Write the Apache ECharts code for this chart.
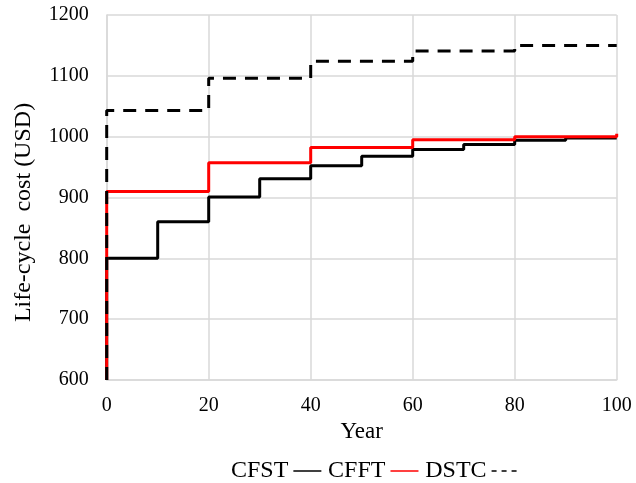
<!DOCTYPE html>
<html>
<head>
<meta charset="utf-8">
<script src="https://cdn.jsdelivr.net/npm/echarts@6/dist/echarts.min.js"></script>
<style>
  html, body { margin: 0; padding: 0; background: #fff; }
  #chart { width: 636px; height: 483px; }
</style>
</head>
<body>
<div id="chart"></div>
<script>
// Life-cycle cost step curves (USD) over the service life (years)
const seriesNames = ['CFST', 'CFFT', 'DSTC'];

const cfstYears = [0, 0, 10, 20, 30, 40, 50, 60, 70, 80, 90, 100];
const cfstCost  = [600, 800, 860, 901, 931, 952, 968, 979, 987, 994, 998, 998];

const cfftYears = [0, 0, 20, 40, 60, 80, 100];
const cfftCost  = [600, 910, 957, 982, 995, 1000, 1005];

const dstcYears = [0, 0, 20, 40, 60, 80, 100];
const dstcCost  = [600, 1043, 1096, 1124, 1141, 1150, 1150];

const yearTicks = [0, 20, 40, 60, 80, 100];
const costTicks = [600, 700, 800, 900, 1000, 1100, 1200];

function pairs(xs, ys) {
  return xs.map((x, i) => [x, ys[i]]);
}

const serif = '"Liberation Serif", "Times New Roman", serif';
const gridColor = '#d9d9d9';
const hiddenMarker = { opacity: 0, color: 'transparent', borderColor: 'transparent', borderWidth: 0 };

const chart = echarts.init(document.getElementById('chart'), null, { renderer: 'canvas' });

chart.setOption({
  animation: false,
  backgroundColor: '#ffffff',
  textStyle: { fontFamily: serif, color: '#000' },
  grid: { left: 106.7, right: 19.3, top: 15, bottom: 103, containLabel: false },
  legend: {
    left: 231,
    top: 459,
    padding: 0,
    align: 'right',
    itemWidth: 28,
    itemHeight: 14,
    itemGap: 6,
    textStyle: { fontFamily: serif, fontSize: 24, color: '#000' },
    lineStyle: { width: 1.5 },
    itemStyle: hiddenMarker,
    data: [
      { name: 'CFST', itemStyle: hiddenMarker, lineStyle: { width: 1.5, color: '#000' } },
      { name: 'CFFT', itemStyle: hiddenMarker, lineStyle: { width: 1.5, color: '#ff0000' } },
      { name: 'DSTC', itemStyle: hiddenMarker, lineStyle: { width: 1.5, color: '#000', type: [5, 5] } }
    ]
  },
  xAxis: {
    type: 'value',
    min: yearTicks[0],
    max: yearTicks[yearTicks.length - 1],
    interval: yearTicks[1] - yearTicks[0],
    name: 'Year',
    nameLocation: 'middle',
    nameGap: 38,
    nameTextStyle: { fontFamily: serif, fontSize: 23, color: '#000' },
    axisLine: { show: true, lineStyle: { color: gridColor, width: 1.5 } },
    axisTick: { show: false },
    axisLabel: { fontFamily: serif, fontSize: 20, color: '#000', margin: 16, formatter: v => String(v) },
    splitLine: { show: true, lineStyle: { color: gridColor, width: 1.5 } }
  },
  yAxis: {
    type: 'value',
    min: costTicks[0],
    max: costTicks[costTicks.length - 1],
    interval: costTicks[1] - costTicks[0],
    name: 'Life-cycle  cost (USD)',
    nameLocation: 'middle',
    nameGap: 71,
    nameRotate: 90,
    nameTextStyle: { fontFamily: serif, fontSize: 24, color: '#000', padding: [0, 30, 0, 0] },
    axisLine: { show: true, lineStyle: { color: gridColor, width: 1.5 } },
    axisTick: { show: false },
    axisLabel: { fontFamily: serif, fontSize: 20, color: '#000', margin: 18, formatter: v => String(v) },
    splitLine: { show: true, lineStyle: { color: gridColor, width: 1.5 } }
  },
  series: [
    {
      name: seriesNames[0],
      type: 'line',
      step: 'end',
      symbol: 'none',
      data: pairs(cfstYears, cfstCost),
      lineStyle: { color: '#000', width: 3 },
      itemStyle: { color: '#000' },
      emphasis: { disabled: true },
      z: 2
    },
    {
      name: seriesNames[1],
      type: 'line',
      step: 'end',
      symbol: 'none',
      data: pairs(cfftYears, cfftCost),
      lineStyle: { color: '#ff0000', width: 3 },
      itemStyle: { color: '#ff0000' },
      emphasis: { disabled: true },
      z: 3
    },
    {
      name: seriesNames[2],
      type: 'line',
      step: 'end',
      symbol: 'none',
      data: pairs(dstcYears, dstcCost),
      lineStyle: { color: '#000', width: 3, type: [13, 9] },
      itemStyle: { color: '#000' },
      emphasis: { disabled: true },
      z: 4
    }
  ]
});
</script>
</body>
</html>
